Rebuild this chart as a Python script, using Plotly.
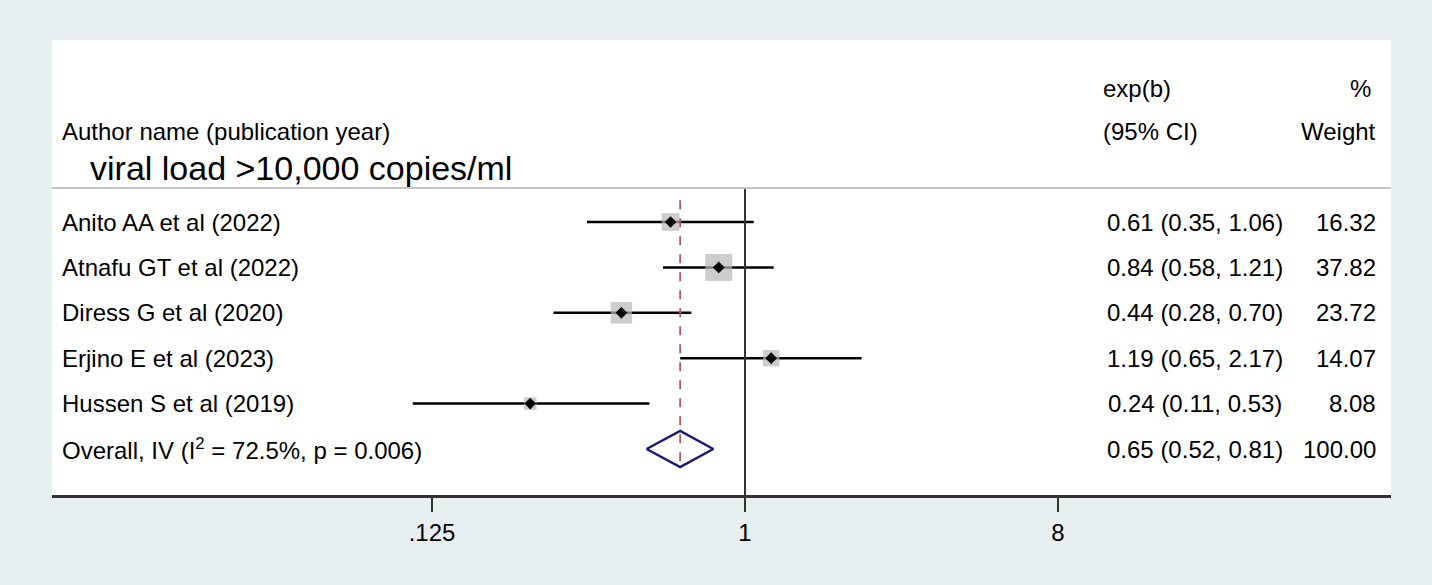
import plotly.graph_objects as go
import numpy as np

# ---- data ----
studies = ["Anito AA et al (2022)", "Atnafu GT et al (2022)", "Diress G et al (2020)",
           "Erjino E et al (2023)", "Hussen S et al (2019)"]
es = [0.61, 0.84, 0.44, 1.19, 0.24]
lo = [0.35, 0.58, 0.28, 0.65, 0.11]
hi = [1.06, 1.21, 0.70, 2.17, 0.53]
weights = [16.32, 37.82, 23.72, 14.07, 8.08]
overall_label = "Overall, IV (I<sup>2</sup> = 72.5%, p = 0.006)"
overall_es, overall_lo, overall_hi, overall_w = 0.65, 0.52, 0.81, 100.00
subgroup_title = "viral load >10,000 copies/ml"
tick_vals = [0.125, 1, 8]
tick_text = [".125", "1", "8"]

FONT = "Liberation Sans, Arial, sans-serif"
BG = "#e8eff1"
W, H = 1432, 585

rows = [-i for i in range(len(studies))]
overall_row = -len(studies)

fig = go.Figure()

# CI lines
xs, ys = [], []
for l, h, r in zip(lo, hi, rows):
    xs += [l, h, None]
    ys += [r, r, None]
fig.add_trace(go.Scatter(x=xs, y=ys, mode="lines", line=dict(color="black", width=2.5),
                         hoverinfo="skip", showlegend=False))

# weight squares
maxw = max(weights)
sizes = [27 * np.sqrt(w / maxw) for w in weights]
fig.add_trace(go.Scatter(x=es, y=rows, mode="markers",
                         marker=dict(symbol="square", size=sizes, color="#b8b8b8",
                                     line=dict(width=0)),
                         hoverinfo="skip", showlegend=False))
# point estimates
fig.add_trace(go.Scatter(x=es, y=rows, mode="markers",
                         marker=dict(symbol="diamond", size=9, color="black"),
                         hoverinfo="skip", showlegend=False))

# overall diamond
dh = 0.40
fig.add_trace(go.Scatter(x=[overall_lo, overall_es, overall_hi, overall_es, overall_lo],
                         y=[overall_row, overall_row + dh, overall_row, overall_row - dh, overall_row],
                         mode="lines", line=dict(color="#1a1a7e", width=2.5),
                         hoverinfo="skip", showlegend=False))

# vertical lines
fig.add_shape(type="line", xref="x", yref="y", x0=1, x1=1, y0=0.75, y1=-6.1,
              line=dict(color="#333333", width=2))
fig.add_shape(type="line", xref="x", yref="y", x0=overall_es, x1=overall_es, y0=0.48, y1=-5.46,
              line=dict(color="#b25a5a", width=1.8, dash="dash"))
# header separator
fig.add_shape(type="line", xref="paper", yref="y", x0=52 / W, x1=1391 / W, y0=0.75, y1=0.75,
              line=dict(color="#c4c4c4", width=2))

ann = []
fs = 24
for s, r in zip(studies + [overall_label], rows + [overall_row]):
    ann.append(dict(x=60 / W, y=r, xref="paper", yref="y", text=s, showarrow=False,
                    xanchor="left", yanchor="middle", font=dict(size=fs, family=FONT, color="black")))
all_es = es + [overall_es]
all_lo = lo + [overall_lo]
all_hi = hi + [overall_hi]
all_w = weights + [overall_w]
for e, l, h, w, r in zip(all_es, all_lo, all_hi, all_w, rows + [overall_row]):
    ann.append(dict(x=1195 / W, y=r, xref="paper", yref="y",
                    text=f"{e:.2f} ({l:.2f}, {h:.2f})", showarrow=False,
                    xanchor="center", yanchor="middle", font=dict(size=fs, family=FONT, color="black")))
    ann.append(dict(x=1378 / W, y=r, xref="paper", yref="y", text=f"{w:.2f}", showarrow=False,
                    xanchor="right", yanchor="middle", font=dict(size=fs, family=FONT, color="black")))

def paper_y(py):
    return 1 - py / H

headers = [
    ("Author name (publication year)", 60, 131, "left", fs),
    (subgroup_title, 88, 168, "left", 34),
    ("exp(b)", 1101, 88, "left", fs),
    ("(95% CI)", 1101, 131, "left", fs),
    ("%", 1373, 88, "right", fs),
    ("Weight", 1378, 131, "right", fs),
]
for t, px, py, anc, sz in headers:
    ann.append(dict(x=px / W, y=paper_y(py), xref="paper", yref="paper", text=t, showarrow=False,
                    xanchor=anc, yanchor="middle", font=dict(size=sz, family=FONT, color="black")))

# axis scale: 1 at x=745 px, 104.33 px per doubling
ppl = np.log10(2) / 104.33
xr = [(52 - 745) * ppl, (1391 - 745) * ppl]
row_px = 45.4
yr = [-(495 - 222) / row_px, (222 - 40) / row_px]

fig.update_layout(
    width=W, height=H,
    margin=dict(l=0, r=0, t=0, b=0),
    paper_bgcolor=BG, plot_bgcolor="white",
    annotations=ann,
    xaxis=dict(type="log", range=xr, domain=[52 / W, 1391 / W],
               tickvals=tick_vals, ticktext=tick_text, ticks="outside", ticklen=14,
               tickwidth=2, tickcolor="#333333", showline=True, linecolor="#333333", linewidth=2.5,
               showgrid=False, zeroline=False,
               tickfont=dict(size=fs, family=FONT, color="black")),
    yaxis=dict(range=yr, domain=[1 - 495 / H, 1 - 40 / H], showgrid=False, zeroline=False,
               showticklabels=False, showline=False, ticks=""),
)

fig.write_html("out.html", config={"displayModeBar": False},
               post_script="document.body.style.margin='0px';document.body.style.padding='0px';"
                           "document.body.style.overflow='hidden';"
                           "document.body.style.background='" + BG + "';")
